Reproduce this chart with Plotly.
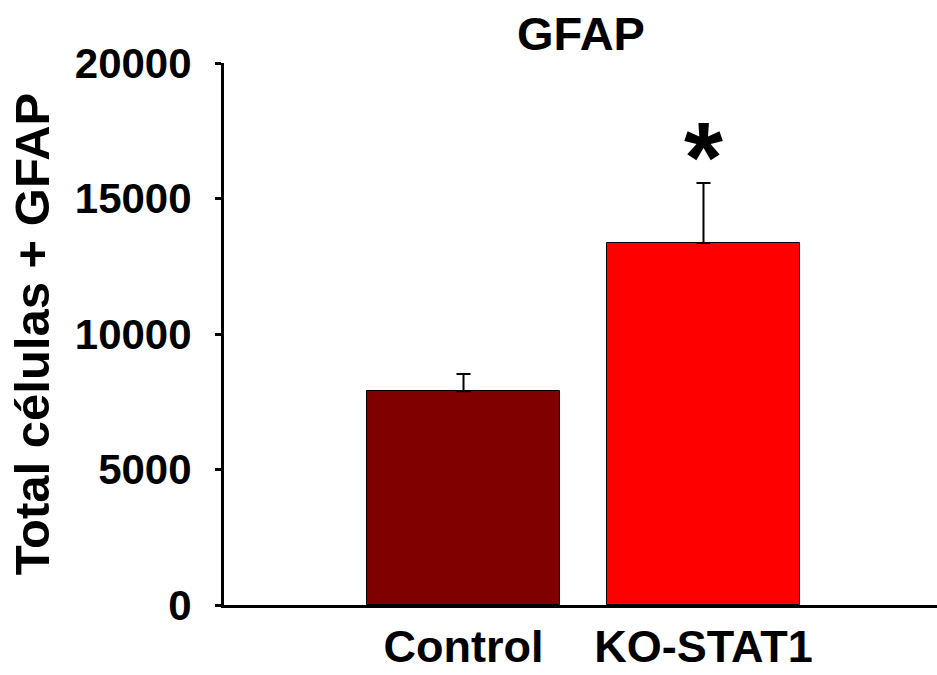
import plotly.graph_objects as go

categories = ["Control", "KO-STAT1"]
means = [7890, 13360]
errors = [630, 2210]
colors = ["#800000", "#FF0000"]
y_ticks = [0, 5000, 10000, 15000, 20000]
title_text = "GFAP"
y_title = "Total células + GFAP"
sig_marks = ["", "*"]

x_pos = list(range(len(categories)))
FONT = "Arial, Liberation Sans, sans-serif"

fig = go.Figure()
fig.add_trace(go.Bar(
    x=x_pos, y=means, width=0.804,
    marker=dict(color=colors, line=dict(color="black", width=1)),
    error_y=dict(type="data", array=errors, arrayminus=[0] * len(errors),
                 symmetric=False, color="black", thickness=2, width=7),
    showlegend=False,
))

for xi, m, e, s in zip(x_pos, means, errors, sig_marks):
    if s:
        fig.add_annotation(x=xi, y=m + e, yshift=-32, text=f"<b>{s}</b>", showarrow=False,
                           yanchor="bottom", font=dict(family=FONT, size=100, color="black"))

fig.update_layout(
    width=937, height=675,
    margin=dict(l=224, r=0, t=63, b=70),
    plot_bgcolor="white", paper_bgcolor="white",
    title=dict(text=f"<b>{title_text}</b>", x=0.62, xanchor="center", y=0.975, yanchor="top",
               font=dict(family=FONT, size=47, color="black")),
    bargap=0,
)
fig.update_xaxes(
    range=[-0.998, 1.973], tickvals=x_pos,
    ticktext=[f"<b>{c}</b>" for c in categories],
    tickfont=dict(family=FONT, size=45, color="black"),
    showline=True, linecolor="black", linewidth=3, ticks="", showgrid=False, zeroline=False,
)
fig.update_yaxes(
    range=[0, 20000], tickvals=y_ticks,
    ticktext=[f"<b>{t}</b>" for t in y_ticks],
    tickfont=dict(family=FONT, size=42, color="black"),
    ticklabelstandoff=15,
    showline=True, linecolor="black", linewidth=3, ticks="outside", ticklen=6, tickwidth=3,
    tickcolor="black", showgrid=False, zeroline=False,
    title=dict(text=f"<b>{y_title}</b>", font=dict(family=FONT, size=49, color="black"), standoff=10),
)

fig.write_html("out.html")
